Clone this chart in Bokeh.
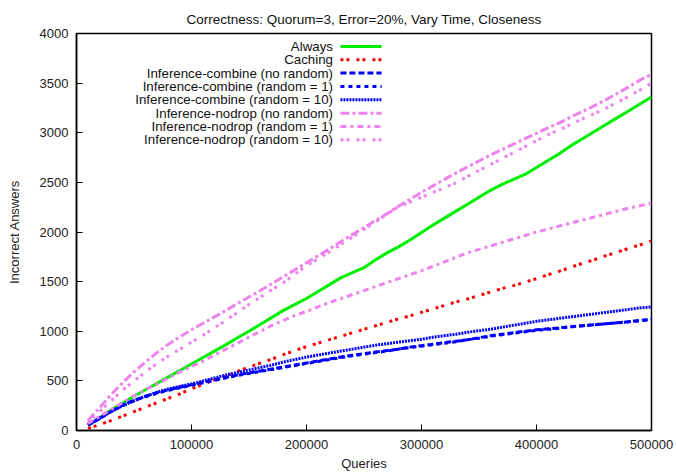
from bokeh.plotting import figure
from bokeh.models import FixedTicker, BasicTickFormatter, Range1d, Label
from bokeh.embed import file_html
from bokeh.resources import INLINE

queries = [i * 10000 for i in range(1, 51)]

always = [50, 125, 205, 275, 345, 410, 475, 540, 605, 670,
          735, 800, 865, 935, 1000, 1070, 1140, 1210, 1270, 1330,
          1400, 1470, 1540, 1590, 1640, 1720, 1790, 1850, 1920, 1995,
          2070, 2140, 2210, 2280, 2350, 2420, 2480, 2530, 2580, 2650,
          2720, 2790, 2870, 2940, 3010, 3080, 3150, 3220, 3290, 3360]

caching = [20, 60, 100, 145, 190, 235, 280, 325, 370, 420,
           465, 510, 550, 595, 640, 680, 720, 765, 805, 845,
           880, 915, 950, 985, 1020, 1055, 1090, 1125, 1155, 1190,
           1225, 1260, 1295, 1325, 1360, 1395, 1430, 1460, 1495, 1530,
           1570, 1605, 1645, 1685, 1720, 1760, 1795, 1835, 1870, 1910]

comb_norand = [60, 125, 195, 255, 305, 345, 380, 410, 435, 460,
               485, 510, 535, 560, 580, 600, 620, 640, 660, 680,
               700, 720, 740, 758, 775, 790, 805, 820, 840, 855,
               870, 885, 900, 915, 935, 955, 970, 985, 1000, 1015,
               1025, 1035, 1045, 1055, 1065, 1075, 1085, 1095, 1110, 1120]

comb_r1 = [55, 120, 190, 250, 300, 340, 375, 405, 430, 455,
           480, 505, 530, 555, 575, 595, 615, 635, 655, 675,
           695, 715, 735, 752, 770, 785, 800, 820, 835, 850,
           865, 880, 895, 915, 930, 950, 965, 980, 995, 1010,
           1020, 1030, 1045, 1055, 1065, 1075, 1085, 1095, 1105, 1120]

comb_r10 = [55, 120, 190, 250, 300, 345, 385, 420, 445, 470,
            500, 530, 560, 585, 610, 635, 660, 690, 715, 740,
            760, 780, 800, 820, 840, 860, 875, 890, 905, 920,
            940, 955, 970, 990, 1005, 1020, 1040, 1060, 1080, 1100,
            1115, 1130, 1145, 1160, 1175, 1190, 1205, 1220, 1235, 1245]

nodrop_norand = [100, 230, 360, 480, 590, 690, 785, 870, 945, 1015,
                 1080, 1145, 1210, 1280, 1345, 1410, 1480, 1550, 1620, 1690,
                 1760, 1830, 1905, 1975, 2045, 2115, 2185, 2260, 2330, 2400,
                 2465, 2530, 2595, 2655, 2715, 2775, 2830, 2885, 2940, 2995,
                 3050, 3100, 3160, 3215, 3270, 3330, 3395, 3460, 3530, 3590]

nodrop_r1 = [70, 140, 210, 280, 350, 410, 470, 530, 590, 645,
             700, 760, 820, 880, 940, 1000, 1060, 1110, 1160, 1200,
             1245, 1290, 1330, 1370, 1410, 1450, 1490, 1530, 1570, 1610,
             1655, 1700, 1745, 1790, 1825, 1860, 1895, 1930, 1965, 2000,
             2030, 2060, 2090, 2120, 2150, 2180, 2210, 2240, 2265, 2290]

nodrop_r10 = [85, 190, 300, 405, 500, 590, 675, 750, 820, 890,
              960, 1035, 1110, 1190, 1270, 1345, 1420, 1490, 1575, 1660,
              1730, 1800, 1875, 1950, 2025, 2100, 2180, 2255, 2300, 2350,
              2400, 2445, 2495, 2560, 2620, 2680, 2740, 2800, 2860, 2920,
              2980, 3030, 3085, 3140, 3190, 3245, 3305, 3365, 3430, 3500]

labels = ["Always", "Caching",
          "Inference-combine (no random)", "Inference-combine (random = 1)",
          "Inference-combine (random = 10)", "Inference-nodrop (no random)",
          "Inference-nodrop (random = 1)", "Inference-nodrop (random = 10)"]
series = [always, caching, comb_norand, comb_r1, comb_r10,
          nodrop_norand, nodrop_r1, nodrop_r10]
colors = ["#00ee00", "#ff0000", "#0000ff", "#0000ff", "#0000ff",
          "#ee82ee", "#ee82ee", "#ee82ee"]
dashes = ["solid", "3 3 3 7", "6 3", "4 4", "2 1", "9 3 3 3", "6 4 3 4", "3 3 3 7"]

x_ticks = [0, 100000, 200000, 300000, 400000, 500000]
y_ticks = [0, 500, 1000, 1500, 2000, 2500, 3000, 3500, 4000]

FONT = "Liberation Sans"
FS = "13px"

p = figure(width=676, height=474, output_backend="svg", toolbar_location=None,
           x_range=Range1d(0, 500000), y_range=Range1d(0, 4000),
           min_border_left=76, min_border_right=25, min_border_top=33,
           min_border_bottom=44,
           title="Correctness: Quorum=3, Error=20%, Vary Time, Closeness")
p.title.align = "center"
p.title.text_font = FONT
p.title.text_font_size = "13.5px"
p.title.text_font_style = "normal"
p.title.text_color = "#111111"
p.title.offset = 0
p.title.standoff = 13

p.grid.visible = False
p.outline_line_color = "black"
p.outline_line_width = 1.5
p.outline_line_alpha = 1

for ax in (p.xaxis[0], p.yaxis[0]):
    ax.major_tick_in = 6
    ax.major_tick_out = 0
    ax.minor_tick_in = 0
    ax.minor_tick_out = 0
    ax.axis_line_width = 1.5
    ax.major_tick_line_width = 1
    ax.major_label_text_font = FONT
    ax.major_label_text_font_size = FS
    ax.major_label_text_color = "#222222"
    ax.axis_label_text_font = FONT
    ax.axis_label_text_font_size = FS
    ax.axis_label_text_font_style = "normal"
    ax.axis_label_text_color = "#222222"
    ax.formatter = BasicTickFormatter(use_scientific=False)

p.xaxis.ticker = FixedTicker(ticks=x_ticks)
p.yaxis.ticker = FixedTicker(ticks=y_ticks)
p.xaxis.axis_label = "Queries"
p.yaxis.axis_label = "Incorrect Answers"
p.xaxis.major_label_standoff = 9
p.yaxis.major_label_standoff = 8
p.xaxis.axis_label_standoff = 4
p.yaxis.axis_label_standoff = 15

# data lines
for ys, c, d in zip(series, colors, dashes):
    p.line(queries, ys, line_color=c, line_width=3, line_dash=d)

# manual legend (text left of sample)
leg_x0, leg_x1, leg_text_x = 229500, 265300, 223000
leg_y0, leg_dy = 3870, 134.5
for i, (lab, c, d) in enumerate(zip(labels, colors, dashes)):
    y = leg_y0 - i * leg_dy
    p.line([leg_x0, leg_x1], [y, y], line_color=c, line_width=3, line_dash=d)
    p.add_layout(Label(x=leg_text_x, y=y, text=lab, text_align="right",
                       text_baseline="middle", text_font=FONT,
                       text_font_size="13.3px", text_color="#111111"))

open("out.html", "w").write(file_html(p, INLINE))
